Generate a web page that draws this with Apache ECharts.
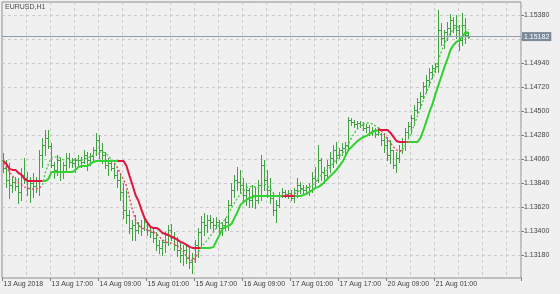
<!DOCTYPE html>
<html><head><meta charset="utf-8">
<script src="https://cdn.jsdelivr.net/npm/echarts@6/dist/echarts.min.js"></script>
<style>html,body{margin:0;padding:0;background:#f0f0f0;}#c{width:560px;height:294px;}</style>
</head><body><div id="c"></div>
<script>
const symbolTitle = 'EURUSD,H1';
const xTickLabels = ['13 Aug 2018','13 Aug 17:00','14 Aug 09:00','15 Aug 01:00','15 Aug 17:00','16 Aug 09:00','17 Aug 01:00','17 Aug 17:00','20 Aug 09:00','21 Aug 01:00'];
const yTickValues = [1.1318,1.1340,1.1362,1.1384,1.1406,1.1428,1.1450,1.1472,1.1494,1.1516,1.1538];
const yLabelValues = [1.1318,1.1340,1.1362,1.1384,1.1406,1.1428,1.1450,1.1472,1.1494,1.1538];
const currentPrice = 1.15182;

const opens = [
1.14051,1.13978,1.13868,1.13822,1.13850,1.13813,1.13758,1.13914,1.13886,1.13795,
1.13840,1.13813,1.13868,1.14097,1.14189,1.14253,1.14180,1.14005,1.13960,1.14051,
1.13941,1.14005,1.14070,1.14033,1.14024,1.14051,1.14051,1.14033,1.14097,1.14051,
1.14088,1.14143,1.14235,1.14143,1.14097,1.14005,1.14024,1.13978,1.13914,1.13868,
1.13758,
1.13593,1.13547,1.13428,1.13455,1.13410,1.13446,1.13428,1.13483,1.13410,
1.13391,1.13336,1.13272,1.13245,1.13300,1.13364,1.13410,1.13355,1.13272,1.13226,
1.13180,1.13226,1.13153,1.13116,1.13153,1.13272,1.13391,1.13483,1.13455,1.13501,
1.13483,1.13455,1.13483,1.13428,1.13455,1.13483,1.13639,1.13776,1.13868,
1.13850,
1.13822,1.13730,1.13776,1.13685,1.13730,1.13685,1.13822,1.14005,1.13868,1.13776,
1.13703,1.13593,1.13639,1.13730,1.13758,1.13740,1.13749,1.13703,1.13776,1.13822,
1.13795,1.13776,1.13804,1.13776,1.13886,1.13868,1.14051,1.13941,1.13914,1.14005,
1.14070,1.14143,1.14097,1.14143,1.14161,1.14189,1.14418,1.14400,1.14381,1.14390,
1.14372,1.14345,1.14354,1.14308,1.14326,1.14290,
1.14290,1.14235,1.14189,1.14097,1.14143,1.14005,1.14070,1.14143,1.14216,1.14308,
1.14363,1.14436,1.14510,1.14583,1.14638,1.14730,1.14785,1.14858,1.14895,1.14913,
1.15243,1.15170,1.15225,1.15261,1.15335,1.15289,1.15243,1.15151,1.15289,1.15197
];
const highs = [
1.14115,1.14051,1.14024,1.13895,1.13895,1.13886,1.13978,1.14070,1.13941,1.13895,
1.13932,1.13895,1.14143,1.14253,1.14326,1.14326,1.14207,1.14033,1.14097,1.14070,
1.14033,1.14115,1.14115,1.14070,1.14070,1.14097,1.14079,1.14143,1.14125,1.14115,
1.14170,1.14299,1.14280,1.14207,1.14125,1.14070,1.14051,1.14024,1.13960,1.13932,
1.13840,
1.13776,1.13593,1.13501,1.13547,1.13483,1.13501,1.13520,1.13483,1.13437,
1.13428,1.13391,1.13318,1.13318,1.13391,1.13455,1.13465,1.13391,1.13345,1.13290,
1.13272,1.13272,1.13245,1.13199,1.13318,1.13428,1.13538,1.13565,1.13547,1.13547,
1.13520,1.13529,1.13501,1.13483,1.13520,1.13685,1.13840,1.13914,1.13987,
1.13960,
1.13886,1.13840,1.13795,1.13822,1.13804,1.13868,1.14097,1.14051,1.13960,1.13886,
1.13758,1.13685,1.13758,1.13795,1.13776,1.13776,1.13776,1.13795,1.13886,1.13850,
1.13822,1.13822,1.13840,1.13941,1.13987,1.14189,1.14070,1.13987,1.14051,1.14125,
1.14189,1.14216,1.14161,1.14207,1.14216,1.14445,1.14436,1.14418,1.14409,1.14409,
1.14400,1.14381,1.14372,1.14354,1.14345,1.14354,
1.14299,1.14299,1.14262,1.14235,1.14143,1.14125,1.14189,1.14253,1.14345,1.14400,
1.14464,1.14555,1.14620,1.14675,1.14766,1.14830,1.14895,1.14922,1.14940,1.15426,
1.15307,1.15243,1.15316,1.15390,1.15362,1.15380,1.15289,1.15399,1.15353,1.15225
];
const lows = [
1.13941,1.13804,1.13703,1.13758,1.13776,1.13657,1.13685,1.13840,1.13730,1.13666,
1.13712,1.13758,1.13730,1.13987,1.14097,1.14161,1.13987,1.13886,1.13914,1.13868,
1.13886,1.13960,1.13987,1.13987,1.13941,1.14005,1.13987,1.14024,1.13960,1.14005,
1.14051,1.14097,1.14070,1.14024,1.13978,1.13914,1.13960,1.13886,1.13804,1.13685,
1.13520,
1.13474,1.13382,1.13318,1.13318,1.13382,1.13364,1.13410,1.13364,1.13345,
1.13300,1.13226,1.13199,1.13180,1.13208,1.13272,1.13318,1.13226,1.13171,1.13116,
1.13089,1.13107,1.13061,1.13016,1.13116,1.13162,1.13254,1.13364,1.13391,1.13428,
1.13410,1.13428,1.13382,1.13364,1.13410,1.13410,1.13639,1.13712,1.13776,
1.13749,
1.13685,1.13639,1.13620,1.13620,1.13611,1.13657,1.13685,1.13776,1.13712,1.13657,
1.13547,1.13483,1.13620,1.13712,1.13712,1.13703,1.13685,1.13666,1.13712,1.13749,
1.13749,1.13749,1.13730,1.13758,1.13804,1.13850,1.13868,1.13840,1.13886,1.13941,
1.13987,1.14024,1.14070,1.14097,1.14115,1.14161,1.14372,1.14354,1.14345,1.14354,
1.14326,1.14308,1.14280,1.14280,1.14262,1.14280,
1.14189,1.14125,1.14051,1.14024,1.13978,1.13941,1.14033,1.14115,1.14143,1.14253,
1.14299,1.14372,1.14482,1.14528,1.14620,1.14675,1.14739,1.14803,1.14858,1.14858,
1.15105,1.15078,1.15151,1.15197,1.15225,1.15170,1.15060,1.15105,1.15124,1.15170
];
const closes = [
1.13978,1.13868,1.13822,1.13850,1.13813,1.13758,1.13914,1.13886,1.13795,1.13840,
1.13813,1.13868,1.14097,1.14189,1.14253,1.14180,1.14005,1.13960,1.14051,1.13941,
1.14005,1.14070,1.14033,1.14024,1.14051,1.14051,1.14033,1.14097,1.14051,1.14088,
1.14143,1.14235,1.14143,1.14097,1.14005,1.14024,1.13978,1.13914,1.13868,1.13758,
1.13593,
1.13547,1.13428,1.13455,1.13410,1.13446,1.13428,1.13483,1.13410,1.13391,
1.13336,1.13272,1.13245,1.13300,1.13364,1.13410,1.13355,1.13272,1.13226,1.13180,
1.13226,1.13153,1.13116,1.13153,1.13272,1.13391,1.13483,1.13455,1.13501,1.13483,
1.13455,1.13483,1.13428,1.13455,1.13483,1.13639,1.13776,1.13868,1.13850,
1.13822,
1.13730,1.13776,1.13685,1.13730,1.13685,1.13822,1.14005,1.13868,1.13776,1.13703,
1.13593,1.13639,1.13730,1.13758,1.13740,1.13749,1.13703,1.13776,1.13822,1.13795,
1.13776,1.13804,1.13776,1.13886,1.13868,1.14051,1.13941,1.13914,1.14005,1.14070,
1.14143,1.14097,1.14143,1.14161,1.14189,1.14418,1.14400,1.14381,1.14390,1.14372,
1.14345,1.14354,1.14308,1.14326,1.14290,1.14308,
1.14235,1.14189,1.14097,1.14143,1.14005,1.14070,1.14143,1.14216,1.14308,1.14363,
1.14436,1.14510,1.14583,1.14638,1.14730,1.14785,1.14858,1.14895,1.14913,1.15243,
1.15170,1.15225,1.15261,1.15335,1.15289,1.15243,1.15151,1.15289,1.15197,1.15182
];
const trendLine = [
1.14042,1.14015,1.13969,1.13960,1.13960,1.13932,1.13914,1.13877,1.13859,1.13859,
1.13859,1.13859,1.13859,1.13859,1.13859,1.13877,1.13941,1.13941,1.13941,1.13941,
1.13941,1.13941,1.13941,1.13941,1.13960,1.13987,1.13996,1.13996,1.13996,1.14015,
1.14033,1.14042,1.14042,1.14042,1.14042,1.14042,1.14042,1.14042,1.14042,1.14042,
1.14042,
1.13996,1.13905,1.13822,1.13730,1.13675,1.13593,1.13520,1.13474,1.13437,
1.13428,1.13428,1.13410,1.13382,1.13373,1.13364,1.13345,1.13336,1.13318,1.13300,
1.13290,1.13272,1.13254,1.13245,1.13245,1.13245,1.13245,1.13245,1.13245,1.13245,
1.13254,1.13309,1.13364,1.13419,1.13437,1.13446,1.13465,1.13520,1.13575,
1.13639,
1.13666,1.13685,1.13703,1.13712,1.13721,1.13721,1.13721,1.13721,1.13721,1.13721,
1.13721,1.13721,1.13721,1.13721,1.13721,1.13721,1.13721,1.13721,1.13721,1.13721,
1.13730,1.13740,1.13758,1.13776,1.13795,1.13804,1.13822,1.13850,1.13877,1.13905,
1.13932,1.13960,1.13996,1.14033,1.14088,1.14143,1.14170,1.14198,1.14225,1.14244,
1.14262,1.14271,1.14290,1.14308,1.14317,1.14326,
1.14326,1.14326,1.14326,1.14299,1.14262,1.14225,1.14216,1.14216,1.14216,1.14216,
1.14216,1.14216,1.14216,1.14253,1.14326,1.14409,1.14491,1.14565,1.14656,1.14739,
1.14821,1.14904,1.14977,1.15060,1.15105,1.15133,1.15151,1.15179,1.15225,1.15215
];
const signalLine = [
1.14024,1.13978,1.13941,1.13905,1.13868,1.13840,1.13822,1.13804,1.13795,1.13785,
1.13785,1.13785,1.13795,1.13822,1.13941,1.14015,1.14070,1.14079,1.14079,1.14070,
1.14051,1.14033,1.14042,1.14051,1.14051,1.14051,1.14051,1.14060,1.14070,1.14079,
1.14097,1.14115,1.14125,1.14125,1.14115,1.14088,1.14051,1.14024,1.13978,1.13923,
1.13868,
1.13813,1.13703,1.13593,1.13501,1.13455,1.13428,1.13419,1.13410,1.13400,
1.13391,1.13373,1.13345,1.13318,1.13300,1.13290,1.13290,1.13281,1.13263,1.13245,
1.13208,1.13171,1.13144,1.13125,1.13153,1.13208,1.13254,1.13290,1.13318,1.13355,
1.13391,1.13428,1.13455,1.13483,1.13510,1.13556,1.13611,1.13657,1.13703,
1.13740,
1.13767,1.13795,1.13804,1.13813,1.13804,1.13795,1.13813,1.13831,1.13813,1.13785,
1.13749,1.13721,1.13712,1.13721,1.13730,1.13730,1.13730,1.13740,1.13758,1.13776,
1.13785,1.13795,1.13804,1.13822,1.13850,1.13886,1.13914,1.13932,1.13960,1.13987,
1.14024,1.14060,1.14088,1.14115,1.14143,1.14198,1.14253,1.14299,1.14335,1.14363,
1.14381,1.14390,1.14390,1.14381,1.14363,1.14345,
1.14317,1.14280,1.14244,1.14207,1.14170,1.14143,1.14125,1.14143,1.14189,1.14244,
1.14308,1.14381,1.14455,1.14528,1.14601,1.14675,1.14739,1.14812,1.14885,1.14968,
1.15050,1.15115,1.15170,1.15215,1.15252,1.15270,1.15280,1.15280,1.15261,1.15243
];
// bar index ranges where the indicator is falling (drawn red)
const trendDownSegments = [[0,13],[38,66],[93,97],[125,135]];
const signalDownSegments = [[0,13],[37,65],[93,97],[125,133]];
const futureSlots = 17;

const barCount = opens.length;
const slots = Array.from({length: barCount + futureSlots}, (_, i) => String(i));
function inside(i, segs){ return segs.some(s => i >= s[0] && i <= s[1]); }
function strictlyInside(i, segs){ return segs.some(s => i > s[0] && i < s[1]); }
function split(values, segs){
  const down = values.map((v,i) => inside(i, segs) ? v : null);
  const up = values.map((v,i) => strictlyInside(i, segs) ? null : v);
  return {down, up};
}
const tr = split(trendLine, trendDownSegments);
const sg = split(signalLine, signalDownSegments);
const ohlc = opens.map((o,i) => [i, o, highs[i], lows[i], closes[i]]);

const barColor = '#3fa43f';
const upColor = '#2fd22f';
const downColor = '#e0143c';
const font = 'Liberation Sans, Arial, sans-serif';

const chart = echarts.init(document.getElementById('c'), null, {renderer:'canvas'});
chart.setOption({
  animation: false,
  backgroundColor: '#f0f0f0',
  textStyle: {fontFamily: font},
  title: {text: symbolTitle, left: 5, top: 4, padding: 0, textStyle: {fontSize: 7, fontWeight: 'normal', color: '#4a4a4a', fontFamily: font}},
  grid: {left: 2, top: 2, width: 519, height: 276, show: true, borderColor: '#8e8e8e', borderWidth: 1, backgroundColor: 'transparent'},
  xAxis: {
    type: 'category', data: slots, boundaryGap: true,
    axisLine: {show: false},
    axisTick: {show: true, length: 3, interval: (idx) => idx % 16 === 0 && idx < barCount, lineStyle: {color: '#808080'}},
    axisLabel: {interval: (idx) => idx % 16 === 0 && idx < barCount, formatter: (v, idx) => xTickLabels[idx / 16] || '', align: 'left', fontSize: 7, color: '#444', margin: 3, fontFamily: font},
    splitLine: {show: true, interval: (idx) => idx % 8 === 0 && idx > 0, lineStyle: {color: '#cbcbcb', type: [3, 3]}}
  },
  yAxis: {
    type: 'value', position: 'right', min: 1.12969, max: 1.15499, scale: true,
    axisLine: {show: false},
    axisTick: {show: true, length: 3, customValues: yTickValues, lineStyle: {color: '#808080'}},
    axisLabel: {customValues: yLabelValues, formatter: (v) => v.toFixed(5), fontSize: 7, color: '#444', margin: 3, fontFamily: font},
    splitLine: {show: true, lineStyle: {color: '#cbcbcb', type: [3, 3]}}
  },
  series: [
    {
      type: 'custom', clip: true, z: 2,
      data: ohlc, encode: {x: 0, y: [1, 2, 3, 4]},
      renderItem: (params, api) => {
        const i = api.value(0);
        const pO = api.coord([i, api.value(1)]);
        const pH = api.coord([i, api.value(2)]);
        const pL = api.coord([i, api.value(3)]);
        const pC = api.coord([i, api.value(4)]);
        const x = Math.floor(pO[0]) + 0.5;
        const yo = Math.round(pO[1]) + 0.5, yc = Math.round(pC[1]) + 0.5;
        const style = {stroke: barColor, lineWidth: 1};
        return {type: 'group', children: [
          {type: 'line', shape: {x1: x, y1: Math.round(pH[1]), x2: x, y2: Math.round(pL[1]) + 1}, style},
          {type: 'line', shape: {x1: x - 1.5, y1: yo, x2: x, y2: yo}, style},
          {type: 'line', shape: {x1: x, y1: yc, x2: x + 1.5, y2: yc}, style}
        ]};
      }
    },
    {type: 'line', name: 'sigUp', data: sg.up, symbol: 'none', showSymbol: false, connectNulls: false, z: 5, lineStyle: {color: '#4ccc4c', width: 1.4, type: [2, 2], opacity: 1}},
    {type: 'line', name: 'sigDown', data: sg.down, symbol: 'none', showSymbol: false, connectNulls: false, z: 5, lineStyle: {color: '#e84868', width: 1.4, type: [2, 2], opacity: 1}},
    {type: 'line', name: 'trUp', data: tr.up, symbol: 'none', showSymbol: false, connectNulls: false, z: 4, lineStyle: {color: upColor, width: 2},
      markLine: {
        silent: true, symbol: ['none', 'none'], animation: false, precision: 5,
        lineStyle: {color: '#8d9dad', width: 1, type: 'solid'},
        label: {show: true, position: 'end', formatter: currentPrice.toFixed(5), backgroundColor: '#7b8a9b', color: '#ffffff', fontSize: 7, padding: [1, 2, 1, 2], distance: 1, fontFamily: font},
        data: [{yAxis: currentPrice}]
      }
    },
    {type: 'line', name: 'trDown', data: tr.down, symbol: 'none', showSymbol: false, connectNulls: false, z: 4, lineStyle: {color: downColor, width: 2}}
  ]
});
</script></body></html>
